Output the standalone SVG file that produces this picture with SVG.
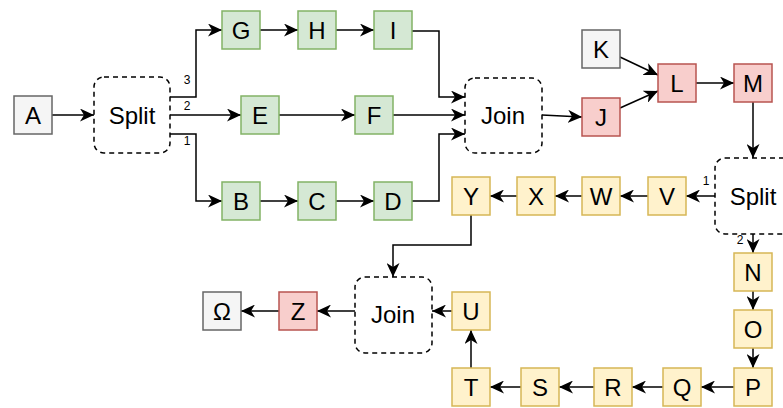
<svg xmlns="http://www.w3.org/2000/svg" width="783" height="408" viewBox="0 0 783 408">
<style>
.n rect{stroke-width:1.5}
.g rect{fill:#f5f5f5;stroke:#666666}
.gr rect{fill:#d5e8d4;stroke:#82b366}
.r rect{fill:#f8cecc;stroke:#b85450}
.y rect{fill:#fff2cc;stroke:#d6b656}
.d rect{fill:#ffffff;stroke:#000000;stroke-dasharray:5 4}
text{font-family:"Liberation Sans",Arial,sans-serif;fill:#000;text-anchor:middle}
.n text{font-size:24px}
.lbl{font-size:12px}
#edges path{fill:none;stroke:#000;stroke-width:1.5;marker-end:url(#ah)}
</style>
<defs>
<marker id="ah" markerUnits="userSpaceOnUse" markerWidth="15" markerHeight="13" refX="14" refY="6.5" orient="auto">
<path d="M0,0 L14,6.5 L0,13 L4,6.5 Z" fill="#000"/>
</marker>
</defs>
<g id="edges">
<path d="M52,115 L94,115"/>
<path d="M170,97 L196,97 L196,30 L222,30"/>
<path d="M170,115 L241,115"/>
<path d="M170,134 L196,134 L196,201 L222,201"/>
<path d="M260,30 L298,30"/>
<path d="M336,30 L374,30"/>
<path d="M412,31 L439,31 L439,97 L465,97"/>
<path d="M279,115 L355,115"/>
<path d="M393,115 L465,115"/>
<path d="M260,201 L298,201"/>
<path d="M336,201 L374,201"/>
<path d="M412,201 L439,201 L439,134 L465,134"/>
<path d="M542,115 L582,117"/>
<path d="M620,57 L658,75"/>
<path d="M620,108 L658,91"/>
<path d="M696,83 L734,83"/>
<path d="M753,102 L753,158"/>
<path d="M715,196 L686,196"/>
<path d="M753,234 L753,253"/>
<path d="M648,196 L620,196"/>
<path d="M582,196 L555,196"/>
<path d="M517,196 L490,196"/>
<path d="M471,215 L471,245 L393,245 L393,277"/>
<path d="M753,291 L753,310"/>
<path d="M753,348 L753,368"/>
<path d="M734,387 L701,387"/>
<path d="M663,387 L632,387"/>
<path d="M594,387 L559,387"/>
<path d="M521,387 L490,387"/>
<path d="M471,368 L471,330"/>
<path d="M452,311 L432,311"/>
<path d="M355,311 L317,311"/>
<path d="M279,311 L241,311"/>
<text class="lbl" x="187" y="84">3</text>
<text class="lbl" x="187" y="110">2</text>
<text class="lbl" x="187" y="145">1</text>
<text class="lbl" x="706" y="185">1</text>
<text class="lbl" x="740" y="244">2</text>
</g>
<g id="A" class="n g"><rect x="14" y="96" width="38" height="38"/><text x="33" y="124">A</text></g>
<g id="Split1" class="n d"><rect x="94" y="77" width="76" height="76" rx="10"/><text x="132" y="124">Split</text></g>
<g id="G" class="n gr"><rect x="222" y="11" width="38" height="38"/><text x="241" y="39">G</text></g>
<g id="H" class="n gr"><rect x="298" y="11" width="38" height="38"/><text x="317" y="39">H</text></g>
<g id="I" class="n gr"><rect x="374" y="11" width="38" height="38"/><text x="393" y="39">I</text></g>
<g id="E" class="n gr"><rect x="241" y="96" width="38" height="38"/><text x="260" y="124">E</text></g>
<g id="F" class="n gr"><rect x="355" y="96" width="38" height="38"/><text x="374" y="124">F</text></g>
<g id="B" class="n gr"><rect x="222" y="182" width="38" height="38"/><text x="241" y="210">B</text></g>
<g id="C" class="n gr"><rect x="298" y="182" width="38" height="38"/><text x="317" y="210">C</text></g>
<g id="D" class="n gr"><rect x="374" y="182" width="38" height="38"/><text x="393" y="210">D</text></g>
<g id="Join1" class="n d"><rect x="465" y="78" width="77" height="75" rx="10"/><text x="503" y="124">Join</text></g>
<g id="K" class="n g"><rect x="582" y="30" width="38" height="38"/><text x="601" y="58">K</text></g>
<g id="J" class="n r"><rect x="582" y="98" width="38" height="38"/><text x="601" y="126">J</text></g>
<g id="L" class="n r"><rect x="658" y="64" width="38" height="38"/><text x="677" y="92">L</text></g>
<g id="M" class="n r"><rect x="734" y="64" width="38" height="38"/><text x="753" y="92">M</text></g>
<g id="Split2" class="n d"><rect x="715" y="158" width="77" height="76" rx="10"/><text x="753" y="205">Split</text></g>
<g id="V" class="n y"><rect x="648" y="177" width="38" height="38"/><text x="667" y="205">V</text></g>
<g id="W" class="n y"><rect x="582" y="177" width="38" height="38"/><text x="601" y="205">W</text></g>
<g id="X" class="n y"><rect x="517" y="177" width="38" height="38"/><text x="536" y="205">X</text></g>
<g id="Y" class="n y"><rect x="452" y="177" width="38" height="38"/><text x="471" y="205">Y</text></g>
<g id="N" class="n y"><rect x="734" y="253" width="38" height="38"/><text x="753" y="281">N</text></g>
<g id="O" class="n y"><rect x="734" y="310" width="38" height="38"/><text x="753" y="338">O</text></g>
<g id="P" class="n y"><rect x="734" y="368" width="38" height="38"/><text x="753" y="396">P</text></g>
<g id="Q" class="n y"><rect x="663" y="368" width="38" height="38"/><text x="682" y="396">Q</text></g>
<g id="R" class="n y"><rect x="594" y="368" width="38" height="38"/><text x="613" y="396">R</text></g>
<g id="S" class="n y"><rect x="521" y="368" width="38" height="38"/><text x="540" y="396">S</text></g>
<g id="T" class="n y"><rect x="452" y="368" width="38" height="38"/><text x="471" y="396">T</text></g>
<g id="U" class="n y"><rect x="452" y="292" width="38" height="38"/><text x="471" y="320">U</text></g>
<g id="Join2" class="n d"><rect x="355" y="277" width="77" height="76" rx="10"/><text x="393" y="323">Join</text></g>
<g id="Z" class="n r"><rect x="279" y="292" width="38" height="38"/><text x="298" y="320">Z</text></g>
<g id="Omega" class="n g"><rect x="203" y="292" width="38" height="38"/><text x="222" y="320">Ω</text></g>
</svg>
